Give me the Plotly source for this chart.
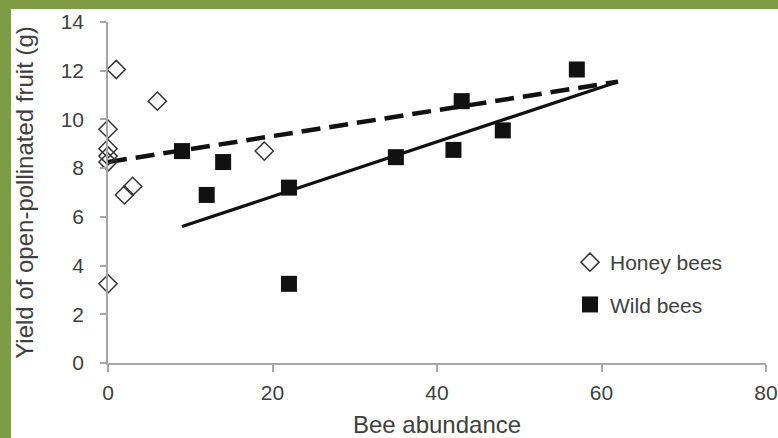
import plotly.graph_objects as go

# ---- data ----
honey_x = [1, 6, 0, 0, 0, 0, 2, 3, 19, 0]
honey_y = [12.05, 10.75, 9.6, 8.8, 8.5, 8.25, 6.9, 7.25, 8.7, 3.25]

wild_x = [9, 12, 14, 22, 22, 35, 42, 43, 48, 57]
wild_y = [8.7, 6.9, 8.25, 7.2, 3.25, 8.45, 8.75, 10.75, 9.55, 12.05]

honey_trend_x = [0, 62]
honey_trend_y = [8.25, 11.55]
wild_trend_x = [9, 62]
wild_trend_y = [5.6, 11.55]

x_ticks = [0, 20, 40, 60, 80]
y_ticks = [0, 2, 4, 6, 8, 10, 12, 14]

# ---- layout geometry ----
W, H = 778, 438
ML, MR, MT, MB = 108, 12, 22, 75
PW, PH = W - ML - MR, H - MT - MB

def px(x):
    return (x - ML) / PW

def py(y):
    return (H - MB - y) / PH

GREEN = "#7d9c45"
TXT = "#404040"
AX = "#a6a6a6"
FONT = "Liberation Sans, Arial, sans-serif"

fig = go.Figure()

fig.add_trace(go.Scatter(
    x=honey_trend_x, y=honey_trend_y, mode="lines",
    line=dict(color="#111111", width=4.5, dash="19px,9px"),
    showlegend=False, hoverinfo="skip", cliponaxis=False))
fig.add_trace(go.Scatter(
    x=wild_trend_x, y=wild_trend_y, mode="lines",
    line=dict(color="#111111", width=3.2),
    showlegend=False, hoverinfo="skip", cliponaxis=False))

fig.add_trace(go.Scatter(
    x=honey_x, y=honey_y, mode="markers", name="Honey bees",
    legendgroup="h",
    marker=dict(symbol="diamond-open", size=14, color="#333333",
                line=dict(width=1.5, color="#333333")),
    cliponaxis=False))
fig.add_trace(go.Scatter(
    x=wild_x, y=wild_y, mode="markers", name="Wild bees",
    legendgroup="w",
    marker=dict(symbol="square", size=16, color="#111111"),
    cliponaxis=False))

fig.add_shape(type="rect", xref="paper", yref="paper",
              x0=px(11), x1=px(W + 5), y0=py(9), y1=py(H + 5),
              fillcolor="white", line=dict(width=0), layer="below")

fig.update_layout(
    width=W, height=H,
    margin=dict(l=ML, r=MR, t=MT, b=MB, autoexpand=False),
    paper_bgcolor=GREEN, plot_bgcolor="rgba(0,0,0,0)",
    font=dict(family=FONT, color=TXT, size=21),
    showlegend=True,
    legend=dict(x=px(570), y=py(242), xanchor="left", yanchor="top",
                bgcolor="rgba(0,0,0,0)", font=dict(size=21, color=TXT),
                traceorder="grouped", tracegroupgap=12, itemwidth=30),
    xaxis=dict(range=[0, 80], tickvals=x_ticks, showgrid=False, zeroline=False,
               showline=True, linecolor=AX, linewidth=1.5,
               ticks="outside", ticklen=7, tickcolor=AX, tickwidth=1.5,
               ticklabelstandoff=3, automargin=False,
               tickfont=dict(size=21, color=TXT),
               title=dict(text="Bee abundance", font=dict(size=24, color=TXT), standoff=13)),
    yaxis=dict(range=[0, 14], tickvals=y_ticks, showgrid=False, zeroline=False,
               showline=True, linecolor=AX, linewidth=1.5,
               ticks="outside", ticklen=6, tickcolor=AX, tickwidth=1.5,
               ticklabelstandoff=12, automargin=False,
               tickfont=dict(size=21, color=TXT),
               title=dict(text="Yield of open-pollinated fruit (g)",
                          font=dict(size=24, color=TXT), standoff=20)),
)

fig.write_html("out.html")
